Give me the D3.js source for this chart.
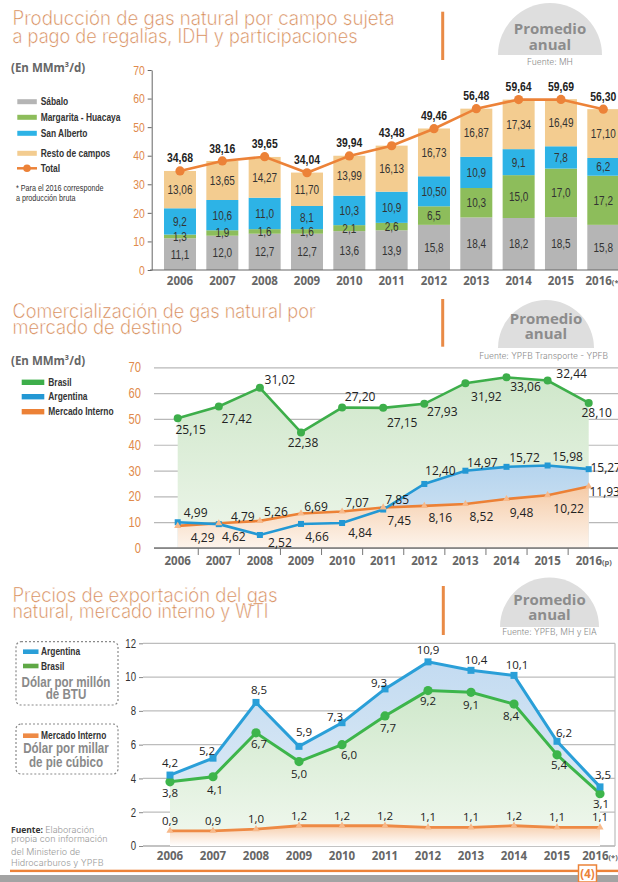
<!DOCTYPE html>
<html><head><meta charset="utf-8">
<script src="https://cdn.jsdelivr.net/npm/d3@7"></script>
<style>
html,body{margin:0;padding:0;background:#fff;}
svg{display:block;}
</style></head>
<body><svg id="c" width="618" height="882"></svg>
<script>
// ---------------- DATA ----------------
const years = ["2006","2007","2008","2009","2010","2011","2012","2013","2014","2015","2016"];

// Chart 1: production by field (MMm3/d)
const prodKeys = ["Sábalo","Margarita - Huacaya","San Alberto","Resto de campos"];
const sabalo     = [11.1, 12.0, 12.7, 12.7, 13.6, 13.9, 15.8, 18.4, 18.2, 18.5, 15.8];
const margarita  = [1.3, 1.9, 1.6, 1.6, 2.1, 2.6, 6.5, 10.3, 15.0, 17.0, 17.2];
const sanAlberto = [9.2, 10.6, 11.0, 8.1, 10.3, 10.9, 10.50, 10.9, 9.1, 7.8, 6.2];
const sanAlbertoDecimals = [1,1,1,1,1,1,2,1,1,1,1];
const resto      = [13.06, 13.65, 14.27, 11.70, 13.99, 16.13, 16.73, 16.87, 17.34, 16.49, 17.10];
const total      = [34.68, 38.16, 39.65, 34.04, 39.94, 43.48, 49.46, 56.48, 59.64, 59.69, 56.30];
const prodTicks  = [0,10,20,30,40,50,60,70];

// Chart 2: commercialisation by market (MMm3/d)
const comBrasil    = [25.15, 27.42, 31.02, 22.38, 27.20, 27.15, 27.93, 31.92, 33.06, 32.44, 28.10];
const comArgentina = [4.99, 4.62, 2.52, 4.66, 4.84, 7.45, 12.40, 14.97, 15.72, 15.98, 15.27];
const comMercado   = [4.29, 4.79, 5.26, 6.69, 7.07, 7.85, 8.16, 8.52, 9.48, 10.22, 11.93];
const comTickLabels = [0,10,20,30,40,50,60,70];

// Chart 3: prices
const priceArgentina = [4.2, 5.2, 8.5, 5.9, 7.3, 9.3, 10.9, 10.4, 10.1, 6.2, 3.5];
const priceBrasil    = [3.8, 4.1, 6.7, 5.0, 6.0, 7.7, 9.2, 9.1, 8.4, 5.4, 3.1];
const priceMercado   = [0.9, 0.9, 1.0, 1.2, 1.2, 1.2, 1.1, 1.1, 1.2, 1.1, 1.1];
const priceTicks     = [0,2,4,6,8,10,12];

// ---------------- LAYOUT (label nudges, not data) ----------------
const offBrasil2 = [[13,12],[18,12],[20,-8],[2,10],[18,-11],[19,15],[18,8],[21,14],[19,9],[24,-7],[8,10]];
const offArg2    = [[18,-9],[15,13],[20,8],[16,13],[18,10],[16,11],[16,-13],[17,-8],[18,-9],[20,-9],[17,-1]];
const offMer2    = [[25,12],[24,-6],[16,-9],[15,-7],[15,-9],[14,-8],[16,12],[16,13],[15,14],[21,14],[16,5]];
const offArg3    = [[0,-12],[-6,-7],[3,-12],[5,-14],[-7,-6],[-6,-6],[0,-12],[5,-10],[3,-10],[7,-8],[3,-12]];
const offBra3    = [[0,11],[2,13],[3,11],[0,12],[7,10],[3,12],[0,10],[0,13],[-3,12],[2,10],[1,10]];

// ---------------- HELPERS ----------------
const NARROW = "'Liberation Sans',Arial,sans-serif";
const SANS = "'Open Sans','Noto Sans',sans-serif";
const THIN = "Inter,Lato,'Open Sans',sans-serif";
const K = 0.8; // horizontal squeeze to emulate a condensed face
const fmt = (v,d) => v.toFixed(d).replace(".", ",");
const svg = d3.select("#c");
const defs = svg.append("defs");
function squeeze(sel){
  sel.each(function(){
    const t = d3.select(this);
    const x = +t.attr("x") || 0;
    t.attr("x", x / K).attr("transform", `scale(${K},1)`);
  });
  return sel;
}
function thin(sel, w){ return sel.attr("stroke","#fff").attr("stroke-width",w); }
function ntext(x, y, str, size, weight, fill, anchor){
  const t = svg.append("text").attr("x",x).attr("y",y).attr("dy","0.35em")
    .attr("text-anchor",anchor||"start").style("font",`${weight} ${size}px ${NARROW}`).attr("fill",fill).text(str);
  squeeze(t);
  return t;
}
function grad(id, c1, c2){
  const g = defs.append("linearGradient").attr("id",id).attr("x1",0).attr("y1",0).attr("x2",0).attr("y2",1);
  g.append("stop").attr("offset","0%").attr("stop-color",c1);
  g.append("stop").attr("offset","100%").attr("stop-color",c2);
}
grad("g2green","#cfe7ca","#eef6eb");
grad("g2blue","#b5d4ee","#d9e8f4");
grad("g2orange","#f5cba7","#fdf4ec");
grad("g3blue","#c3dbf1","#e3eef7");
grad("g3green","#cfe8cb","#f1f8ef");
grad("g3orange","#f7cfae","#ffffff");

function title(lines){
  lines.forEach(l => thin(svg.append("text").attr("x",12.5).attr("y",l.y)
    .attr("textLength",l.w).attr("lengthAdjust","spacingAndGlyphs")
    .style("font",`300 19.5px ${THIN}`).attr("fill","#d27d45").text(l.t), 0.35));
}
function promedio(cx, cy, r, t1, t2, src, sx, sy, anchor){
  svg.append("path").attr("d",`M${cx-r},${cy} A${r},${r} 0 0 1 ${cx+r},${cy} Z`).attr("fill","#dedede");
  svg.append("text").attr("x",cx).attr("y",t1).attr("dy","0.35em").attr("text-anchor","middle")
    .style("font",`bold 15px ${SANS}`).attr("fill","#8c8c8c").text("Promedio");
  svg.append("text").attr("x",cx).attr("y",t2).attr("dy","0.35em").attr("text-anchor","middle")
    .style("font",`bold 15px ${SANS}`).attr("fill","#8c8c8c").text("anual");
  svg.append("text").attr("x",sx).attr("y",sy).attr("dy","0.35em").attr("text-anchor",anchor)
    .style("font",`300 8.5px ${THIN}`).attr("fill","#8a8a8a").text(src);
}
function vbar(x,y1,y2){
  svg.append("rect").attr("x",x-1.5).attr("y",y1).attr("width",3).attr("height",y2-y1).attr("fill","#e98a46");
}
function yearLabels(xs, y, suffix, wholeCenter){
  years.forEach((yr,i)=>{
    const last = i === years.length-1;
    const t = svg.append("text").attr("x", xs(yr) + (last && !wholeCenter ? -13 : 0)).attr("y",y)
      .attr("text-anchor", last && !wholeCenter ? "start" : "middle")
      .style("font",`bold 11.5px ${SANS}`).attr("fill","#666").text(yr);
    if (last) t.append("tspan").style("font",`bold 7.5px ${SANS}`).text(suffix);
  });
}

// ================= CHART 1 =================
title([{t:"Producción de gas natural por campo sujeta", y:25, w:382},
       {t:"a pago de regalías, IDH y participaciones", y:43, w:345}]);
vbar(442.7, 11.7, 60);
promedio(550, 55, 52, 28.5, 45, "Fuente: MH", 550, 62, "middle");
svg.append("text").attr("x",11).attr("y",68).attr("dy","0.35em")
  .style("font",`bold 11.5px ${SANS}`).attr("fill","#666").text("(En MMm³/d)");

const x1 = d3.scalePoint().domain(years).range([180, 603.3]);
const y1 = d3.scaleLinear().domain([0,70]).range([270,70]);
const barW = 32;
const keys1 = ["sabalo","margarita","sanAlberto","resto"];
const colors1 = {sabalo:"#b5b5b5", margarita:"#8dbd5b", sanAlberto:"#2db3e6", resto:"#f3cc90"};
const rows1 = years.map((yr,i)=>({year:yr, sabalo:sabalo[i], margarita:margarita[i], sanAlberto:sanAlberto[i], resto:resto[i]}));
const stacked1 = d3.stack().keys(keys1)(rows1);
const dec1 = {sabalo:()=>1, margarita:()=>1, sanAlberto:i=>sanAlbertoDecimals[i], resto:()=>2};
const g1 = svg.append("g");
stacked1.forEach(layer=>{
  g1.append("g").selectAll("rect").data(layer).join("rect")
    .attr("x", d=>x1(d.data.year)-barW/2).attr("width",barW)
    .attr("y", d=>y1(d[1])).attr("height", d=>y1(d[0])-y1(d[1]))
    .attr("fill", colors1[layer.key]);
});
stacked1.forEach(layer=>{
  squeeze(g1.append("g").selectAll("text").data(layer).join("text")
    .attr("x", d=>x1(d.data.year)).attr("y", d=>(y1(d[0])+y1(d[1]))/2).attr("dy","0.35em")
    .attr("text-anchor","middle").style("font",`12.5px ${NARROW}`).attr("fill","#333")
    .text((d,i)=>fmt(d.data[layer.key], dec1[layer.key](i))));
});
// axes
const ax1 = svg.append("g").attr("transform","translate(151.7,0)")
  .call(d3.axisLeft(y1).tickValues(prodTicks).tickSize(4).tickSizeOuter(0).tickPadding(3));
ax1.select(".domain").attr("stroke","#666");
ax1.selectAll(".tick line").attr("stroke","#666");
squeeze(ax1.selectAll(".tick text").style("font",`13px ${NARROW}`).attr("fill","#e08a4c"));
svg.append("line").attr("x1",150).attr("x2",618).attr("y1",y1(0)).attr("y2",y1(0)).attr("stroke","#666");
yearLabels(x1, 285, "(*)", true);
// total line
const line1 = d3.line().x((d,i)=>x1(years[i])).y(d=>y1(d));
svg.append("path").datum(total).attr("d",line1).attr("fill","none").attr("stroke","#ec8238").attr("stroke-width",2.6);
svg.append("g").selectAll("circle").data(total).join("circle")
  .attr("cx",(d,i)=>x1(years[i])).attr("cy",d=>y1(d)).attr("r",4.6).attr("fill","#ec8238");
squeeze(svg.append("g").selectAll("text").data(total).join("text")
  .attr("x",(d,i)=>x1(years[i])).attr("y",d=>y1(d)-13).attr("dy","0.35em").attr("text-anchor","middle")
  .style("font",`bold 13px ${NARROW}`).attr("fill","#222").text(d=>fmt(d,2)));
// legend
const leg1 = [{k:"sabalo",y:101.7},{k:"margarita",y:117.3},{k:"sanAlberto",y:133.3},{k:"resto",y:153.3}];
leg1.forEach((l,i)=>{
  svg.append("rect").attr("x",17.3).attr("y",l.y-2.5).attr("width",19.5).attr("height",5).attr("fill",colors1[l.k]);
  ntext(40.7, l.y, prodKeys[i], 10.5, "bold", "#333");
});
svg.append("line").attr("x1",17).attr("x2",37).attr("y1",168.3).attr("y2",168.3).attr("stroke","#ec8238").attr("stroke-width",2.5);
svg.append("circle").attr("cx",27).attr("cy",168.3).attr("r",3.8).attr("fill","#ec8238");
ntext(40.7, 168.3, "Total", 10.5, "bold", "#333");
ntext(16, 188.3, "* Para el 2016 corresponde", 9, "normal", "#333");
ntext(16, 198.3, "a producción bruta", 9, "normal", "#333");

// ================= CHART 2 =================
title([{t:"Comercialización de gas natural por", y:317.5, w:303},
       {t:"mercado de destino", y:334, w:170}]);
vbar(442.7, 299, 346.7);
promedio(546, 348, 48, 318.3, 334, "Fuente: YPFB Transporte -  YPFB", 608, 356, "end");
svg.append("text").attr("x",11).attr("y",360.7).attr("dy","0.35em")
  .style("font",`bold 11.5px ${SANS}`).attr("fill","#666").text("(En MMm³/d)");

const x2 = d3.scalePoint().domain(years).range([177.7, 588.7]);
const y2 = d3.scaleLinear().domain([0,35]).range([548, 367.3]);
const ax2 = svg.append("g").attr("transform","translate(154,0)")
  .call(d3.axisLeft(y2).tickValues(comTickLabels.map(t=>t/2)).tickFormat((d,i)=>comTickLabels[i])
  .tickSize(-(618-154)).tickSizeOuter(0).tickPadding(13));
ax2.select(".domain").remove();
ax2.selectAll(".tick line").attr("stroke","#b8b8b8").attr("stroke-width",1.2);
squeeze(ax2.selectAll(".tick text").style("font",`14px ${NARROW}`).attr("fill","#e08a4c"));

const area2 = d3.area().x((d,i)=>x2(years[i])).y0(y2(0)).y1(d=>y2(d));
const line2 = d3.line().x((d,i)=>x2(years[i])).y(d=>y2(d));
svg.append("path").datum(comBrasil).attr("d",area2).attr("fill","url(#g2green)");
svg.append("path").datum(comArgentina).attr("d",area2).attr("fill","url(#g2blue)");
svg.append("path").datum(comMercado).attr("d",area2).attr("fill","url(#g2orange)");
// baseline & category ticks
svg.append("line").attr("x1",154).attr("x2",618).attr("y1",y2(0)).attr("y2",y2(0)).attr("stroke","#777").attr("stroke-width",1.3);
svg.append("g").selectAll("line").data(years.slice(1)).join("line")
  .attr("x1",(d,i)=>(x2(years[i])+x2(d))/2).attr("x2",(d,i)=>(x2(years[i])+x2(d))/2)
  .attr("y1",y2(0)).attr("y2",y2(0)+7).attr("stroke","#777");
yearLabels(x2, 565, "(p)", false);

const cB = "#3dae4a", cA = "#2398d4", cM = "#ec8136";
svg.append("path").datum(comMercado).attr("d",line2).attr("fill","none").attr("stroke",cM).attr("stroke-width",2.6);
svg.append("path").datum(comArgentina).attr("d",line2).attr("fill","none").attr("stroke",cA).attr("stroke-width",2.6);
svg.append("path").datum(comBrasil).attr("d",line2).attr("fill","none").attr("stroke",cB).attr("stroke-width",2.6);
svg.append("g").selectAll("circle").data(comBrasil).join("circle")
  .attr("cx",(d,i)=>x2(years[i])).attr("cy",d=>y2(d)).attr("r",4).attr("fill",cB);
svg.append("g").selectAll("rect").data(comArgentina).join("rect")
  .attr("x",(d,i)=>x2(years[i])-3).attr("y",d=>y2(d)-3).attr("width",6).attr("height",6).attr("fill",cA);
const tri = d3.symbol().type(d3.symbolTriangle).size(22);
svg.append("g").selectAll("path").data(comMercado).join("path")
  .attr("transform",(d,i)=>`translate(${x2(years[i])},${y2(d)})`).attr("d",tri)
  .attr("fill","#f7b98a");
function labels2(vals, offs, xs, ys, size, dec){
  svg.append("g").selectAll("text").data(vals).join("text")
    .attr("x",(d,i)=>xs(years[i])+offs[i][0]).attr("y",(d,i)=>ys(d)+offs[i][1]).attr("dy","0.35em")
    .attr("text-anchor","middle").style("font",`${size}px ${SANS}`).attr("fill","#222")
    .text(d=>fmt(d, dec));
}
labels2(comBrasil, offBrasil2, x2, y2, 12, 2);
labels2(comArgentina, offArg2, x2, y2, 12, 2);
labels2(comMercado, offMer2, x2, y2, 12, 2);
// legend
[{t:"Brasil",c:cB,y:382.3},{t:"Argentina",c:cA,y:396.7},{t:"Mercado Interno",c:cM,y:411.7}].forEach(l=>{
  svg.append("rect").attr("x",21.7).attr("y",l.y-2.7).attr("width",22.6).attr("height",5.4).attr("fill",l.c);
  ntext(48.3, l.y, l.t, 10.5, "bold", "#333");
});

// ================= CHART 3 =================
title([{t:"Precios de exportación del gas", y:601.7, w:265},
       {t:"natural, mercado interno y WTI", y:618.3, w:256}]);
vbar(443.3, 586, 635);
promedio(549.5, 627, 49.5, 599.3, 614.3, "Fuente: YPFB, MH y EIA", 549.5, 631.7, "middle");

const x3 = d3.scalePoint().domain(years).range([170, 600]);
const y3 = d3.scaleLinear().domain([0,12]).range([846, 643.3]);
svg.append("g").selectAll("line").data(priceTicks).join("line")
  .attr("x1",143).attr("x2",615).attr("y1",d=>y3(d)).attr("y2",d=>y3(d))
  .attr("stroke",d=>d===0?"#888":"#bdbdbd").attr("stroke-width",1.2);
svg.append("line").attr("x1",615).attr("x2",615).attr("y1",y3(12)).attr("y2",y3(0)).attr("stroke","#bdbdbd").attr("stroke-width",1.2);
const ax3 = svg.append("g").attr("transform","translate(143,0)")
  .call(d3.axisLeft(y3).tickValues(priceTicks).tickSize(4).tickSizeOuter(0).tickPadding(3));
ax3.select(".domain").remove();
ax3.selectAll(".tick line").attr("stroke","#888");
squeeze(ax3.selectAll(".tick text").style("font",`12px ${NARROW}`).attr("fill","#333"));

const area3 = d3.area().x((d,i)=>x3(years[i])).y0(y3(0)).y1(d=>y3(d));
const line3 = d3.line().x((d,i)=>x3(years[i])).y(d=>y3(d));
svg.append("path").datum(priceArgentina).attr("d",area3).attr("fill","url(#g3blue)");
svg.append("path").datum(priceBrasil).attr("d",area3).attr("fill","url(#g3green)");
svg.append("path").datum(priceMercado).attr("d",area3).attr("fill","url(#g3orange)");
svg.append("path").datum(priceMercado).attr("d",line3).attr("fill","none").attr("stroke","#ee8a45").attr("stroke-width",2.8);
svg.append("path").datum(priceBrasil).attr("d",line3).attr("fill","none").attr("stroke","#3db54b").attr("stroke-width",3);
svg.append("path").datum(priceArgentina).attr("d",line3).attr("fill","none").attr("stroke","#2a9fd8").attr("stroke-width",3);
svg.append("g").selectAll("circle").data(priceBrasil).join("circle")
  .attr("cx",(d,i)=>x3(years[i])).attr("cy",d=>y3(d)).attr("r",4.6).attr("fill","#3db54b");
svg.append("g").selectAll("rect").data(priceArgentina).join("rect")
  .attr("x",(d,i)=>x3(years[i])-3.5).attr("y",d=>y3(d)-3.5).attr("width",7).attr("height",7).attr("fill","#2a9fd8");
svg.append("g").selectAll("path").data(priceMercado).join("path")
  .attr("transform",(d,i)=>`translate(${x3(years[i])},${y3(d)})`).attr("d",tri).attr("fill","#f7b98a");
labels2(priceArgentina, offArg3, x3, y3, 11.5, 1);
labels2(priceBrasil, offBra3, x3, y3, 11.5, 1);
labels2(priceMercado, priceMercado.map(()=>[0,-10]), x3, y3, 11.5, 1);
yearLabels(x3, 860, "(*)", true);

// legend boxes
svg.append("rect").attr("x",16).attr("y",641.7).attr("width",102).attr("height",63.3).attr("rx",5)
  .attr("fill","none").attr("stroke","#8a8a8a").attr("stroke-width",1.2).attr("stroke-dasharray","2,2");
svg.append("rect").attr("x",16).attr("y",724).attr("width",102).attr("height",50).attr("rx",5)
  .attr("fill","none").attr("stroke","#8a8a8a").attr("stroke-width",1.2).attr("stroke-dasharray","2,2");
[{t:"Argentina",c:"#2a9fd8",y:651.7},{t:"Brasil",c:"#5fa845",y:666},{t:"Mercado Interno",c:"#ee8a45",y:735.7}].forEach(l=>{
  svg.append("rect").attr("x",23).attr("y",l.y-2.3).attr("width",15.5).attr("height",4.6).attr("fill",l.c);
  ntext(41, l.y, l.t, 10.5, "bold", "#333");
});
[["Dólar por millón",681.7],["de BTU",694],["Dólar por millar",748.3],["de pie cúbico",761.7]].forEach(([t,y])=>{
  ntext(66, y, t, 14.5, "bold", "#8a8a8a", "middle");
});
const s0 = svg.append("text").attr("x",11).attr("y",827.3).attr("dy","0.35em");
s0.append("tspan").style("font",`bold 8.5px ${SANS}`).attr("fill","#333").text("Fuente: ");
s0.append("tspan").style("font",`300 9px ${THIN}`).attr("fill","#999").text("Elaboración");
[["propia con información",839.3],["del Ministerio de",851.5],["Hidrocarburos y YPFB",863.3]].forEach(([t,y])=>{
  svg.append("text").attr("x",11).attr("y",y).attr("dy","0.35em")
    .style("font",`300 9px ${THIN}`).attr("fill","#999").text(t);
});

// footer
svg.append("rect").attr("x",0).attr("y",875).attr("width",618).attr("height",7).attr("fill","#a3a3a3");
svg.append("rect").attr("x",10).attr("y",869.7).attr("width",608).attr("height",2.4).attr("fill","#ec8238");
svg.append("rect").attr("x",578.5).attr("y",865).attr("width",18).attr("height",17).attr("fill","#fff")
  .attr("stroke","#ec8238").attr("stroke-width",1.5);
svg.append("text").attr("x",587.5).attr("y",874).attr("dy","0.35em").attr("text-anchor","middle")
  .style("font",`bold 11.5px ${SANS}`).attr("fill","#ec8238").text("(4)");
</script>
</body></html>
